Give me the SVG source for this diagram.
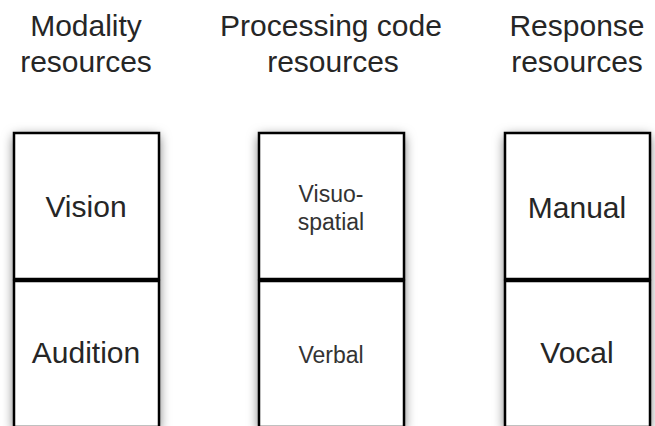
<svg xmlns="http://www.w3.org/2000/svg" width="655" height="426" viewBox="0 0 655 426">
<defs>
<filter id="sh" x="-30%" y="-20%" width="160%" height="140%">
<feDropShadow dx="0" dy="3" stdDeviation="6" flood-color="#000" flood-opacity="0.6"/>
</filter>
<style>
.hd{font-family:"Liberation Sans",Arial,sans-serif;font-size:30px;fill:#262626;text-anchor:middle}
.lb{font-family:"Liberation Sans",Arial,sans-serif;font-size:30px;fill:#262626;text-anchor:middle}
.sm{font-family:"Liberation Sans",Arial,sans-serif;font-size:23px;fill:#333;text-anchor:middle}
.bx{fill:#fff;stroke:#000;stroke-width:2.5}
</style>
</defs>
<rect width="655" height="426" fill="#fff"/>
<g id="headers">
<text class="hd" x="86" y="36">Modality</text>
<text class="hd" x="86" y="72">resources</text>
<text class="hd" x="331" y="36">Processing code</text>
<text class="hd" x="333" y="72">resources</text>
<text class="hd" x="577" y="36">Response</text>
<text class="hd" x="577" y="72">resources</text>
</g>
<g id="shadows" filter="url(#sh)">
<rect x="14" y="133" width="145" height="295" fill="#fff"/>
<rect x="259" y="133" width="145" height="295" fill="#fff"/>
<rect x="505" y="133" width="145" height="295" fill="#fff"/>
</g>
<g id="connectors"/>
<g id="vision"><rect class="bx" x="14" y="133" width="145" height="146"/><text class="lb" x="86" y="217">Vision</text></g>
<g id="audition"><rect class="bx" x="14" y="281" width="145" height="146"/><text class="lb" x="86" y="363">Audition</text></g>
<g id="visuospatial"><rect class="bx" x="259" y="133" width="145" height="146"/><text class="sm" x="331" y="202">Visuo-</text><text class="sm" x="331" y="230">spatial</text></g>
<g id="verbal"><rect class="bx" x="259" y="281" width="145" height="146"/><text class="sm" x="331" y="363">Verbal</text></g>
<g id="manual"><rect class="bx" x="505" y="133" width="145" height="146"/><text class="lb" x="577" y="218">Manual</text></g>
<g id="vocal"><rect class="bx" x="505" y="281" width="145" height="146"/><text class="lb" x="577" y="363">Vocal</text></g>
</svg>
